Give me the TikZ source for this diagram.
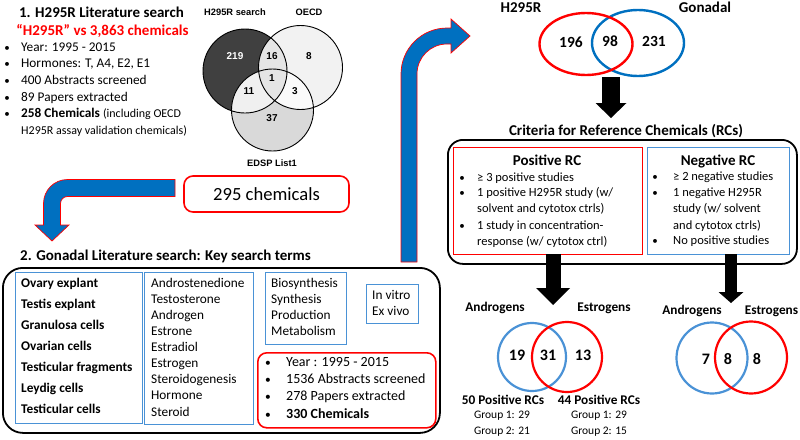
\documentclass[tikz,border=0pt]{standalone}
\usepackage{fontspec}
\setmainfont{Carlito}
\newfontfamily\vennfont{Liberation Sans}
\usetikzlibrary{arrows.meta}
\definecolor{arrowblue}{HTML}{0070C0}
\definecolor{lineblue}{HTML}{4A92D6}
\definecolor{linered}{HTML}{FF0000}
\newcommand{\fs}[2]{\fontsize{#1}{#2}\selectfont}

\begin{document}
\begin{tikzpicture}[x=1pt, y=-1pt,
  txt/.style={inner sep=0pt, anchor=west, text height=9.5pt, text depth=3pt, font=\fs{13.3}{16}},
  bul/.style={txt, anchor=center},
  hdr/.style={inner sep=0pt, text height=11pt, text depth=3.5pt, font=\bfseries\fs{15}{18}},
  vlab/.style={inner sep=0pt, font=\vennfont\bfseries\fs{9.3}{11}},
  vnum/.style={inner sep=0pt, font=\vennfont\bfseries\fs{10}{12}},
  num/.style={inner sep=0pt, font=\bfseries\fs{15.5}{18}},
  sublab/.style={inner sep=0pt, font=\bfseries\fs{13.3}{16}},
  grp/.style={inner sep=0pt, font=\fs{11.5}{14}},
  bluebox/.style={draw=lineblue, line width=1.3pt, inner sep=0pt},
  redbox/.style={draw=linered, line width=1.6pt, rounded corners=9pt, inner sep=0pt},
  blackbox/.style={draw=black, line width=1.8pt, rounded corners=17pt, inner sep=0pt},
  bigarrow/.style={fill=arrowblue, draw=red, line width=0.7pt},
  blackarrow/.style n args={3}{draw=black, line width=#1, -{Triangle[width=#2, length=#3, line width=0pt]}},
  ]
\useasboundingbox (0,0) rectangle (800,439);

% 1. H295R literature search
\node[hdr] (h295rtitle) at (101.5,14) {1. H295R Literature search};
\node[hdr, text=linered] (h295rsub) at (102.5,32) {“H295R” vs 3,863 chemicals};
\foreach \txt [count=\i] in {Year: 1995 - 2015, {Hormones: T, A4, E2, E1}, 400 Abstracts screened, 89 Papers extracted, {\textbf{258 Chemicals} {\fs{12}{14}(including OECD}}}{
  \node[bul, font=\fs{11}{14}] (hbul\i) at (7,{48+16.6*(\i-1)}) {•};
  \node[txt] (hitem\i) at (21,{48+16.6*(\i-1)}) {\txt};
}
\node[txt, font=\fs{12}{14}] (hitem6) at (21,131) {H295R assay validation chemicals)};

% three-set venn
\coordinate (hsearch) at (245,71);
\coordinate (oecd) at (300.5,67.5);
\coordinate (edsp) at (272.5,110);
\fill[black!15] (edsp) circle[radius=41];
\fill[black!5] (oecd) circle[radius=42];
\fill[black!75] (hsearch) circle[radius=42];
\begin{scope}
  \clip (hsearch) circle[radius=42];
  \fill[black!10] (oecd) circle[radius=42];
  \fill[black!6] (edsp) circle[radius=41];
\end{scope}
\begin{scope}
  \clip (oecd) circle[radius=42];
  \fill[black!2] (edsp) circle[radius=41];
\end{scope}
\begin{scope}
  \clip (hsearch) circle[radius=42];
  \clip (oecd) circle[radius=42];
  \fill[black!10] (edsp) circle[radius=41];
\end{scope}
\draw[line width=0.9pt] (hsearch) circle[radius=42] (oecd) circle[radius=42] (edsp) circle[radius=41];
\node[vlab] (hsearchlab) at (235,12) {H295R search};
\node[vlab] (oecdlab) at (309,12) {OECD};
\node[vlab] (edsplab) at (272,163) {EDSP List1};
\node[vnum, text=white] (n219) at (235,56) {219};
\node[vnum] (n16) at (272,56) {16};
\node[vnum] (n8) at (309,56) {8};
\node[vnum] (n1) at (272,78) {1};
\node[vnum] (n11) at (249,91) {11};
\node[vnum] (n3) at (295,91) {3};
\node[vnum] (n37) at (272,118) {37};

\node[redbox, minimum width=165pt, minimum height=36pt, font=\fs{18.6}{20}] (chembox) at (266.5,194) {295 chemicals};

% blue arrows
\draw[bigarrow] (175,179.5) -- (67.5,179.5) arc[start angle=270, end angle=180, radius=24]
  -- (43.5,225) -- (35,225) -- (52,241) -- (69,225) -- (60.5,225) -- (60.5,203.5)
  arc[start angle=180, end angle=270, radius=7] -- (175,196.5) -- cycle;
\draw[bigarrow] (401,262) -- (401,74) arc[start angle=180, end angle=270, radius=46]
  -- (451,28) -- (451,19) -- (470,36) -- (451,53) -- (451,44) -- (447,44)
  arc[start angle=270, end angle=180, radius=30] -- (417,262) -- cycle;

% 2. Gonadal literature search
\node[hdr, anchor=west] (gontitle) at (20,257) {2. Gonadal Literature search: Key search terms};
\node[blackbox, anchor=north west, minimum width=437pt, minimum height=165pt, rounded corners=20pt] (gonbox) at (2,267) {};
\node[bluebox, anchor=north west, minimum width=127pt, minimum height=151pt] (organbox) at (15,272) {};
\node[bluebox, anchor=north west, minimum width=109pt, minimum height=152pt] (hormbox) at (144,272) {};
\node[bluebox, anchor=north west, minimum width=81pt, minimum height=72pt] (synbox) at (265,272) {};
\node[bluebox, anchor=north west, minimum width=52pt, minimum height=39pt] (vivobox) at (366,284) {};
\node[redbox, anchor=north west, minimum width=178pt, minimum height=75pt] (gonres) at (257,352) {};
\foreach \txt [count=\i] in {Ovary explant, Testis explant, Granulosa cells, Ovarian cells, Testicular fragments, Leydig cells, Testicular cells}
  \node[txt, font=\bfseries\fs{13.3}{16}] (organ\i) at (21,{284+21.1*(\i-1)}) {\txt};
\foreach \txt [count=\i] in {Androstenedione, Testosterone, Androgen, Estrone, Estradiol, Estrogen, Steroidogenesis, Hormone, Steroid}
  \node[txt] (horm\i) at (151,{284+16.1*(\i-1)}) {\txt};
\foreach \txt [count=\i] in {Biosynthesis, Synthesis, Production, Metabolism}
  \node[txt] (syn\i) at (271,{284+16*(\i-1)}) {\txt};
\node[txt] (vivo1) at (372,296) {In vitro};
\node[txt] (vivo2) at (372,312) {Ex vivo};
\foreach \txt [count=\i] in {Year : 1995 - 2015, 1536 Abstracts screened, 278 Papers extracted, \textbf{330 Chemicals}}{
  \node[bul, font=\fs{11.5}{14}] (gbul\i) at (268,{363+17.3*(\i-1)}) {•};
  \node[txt, font=\fs{14}{17}] (gitem\i) at (286,{363+17.3*(\i-1)}) {\txt};
}

% overlap of both searches
\node[hdr] (h295rlab) at (521,9) {H295R};
\node[hdr] (gonlab) at (705,9) {Gonadal};
\draw[arrowblue, line width=2.4pt] (638,43) ellipse[x radius=46, y radius=33];
\draw[linered, line width=2.4pt] (586,44) ellipse[x radius=46.5, y radius=31];
\node[num] (n196) at (571,42) {196};
\node[num] (n98) at (610,41) {98};
\node[num] (n231) at (654,41) {231};
\coordinate (vennbottom) at (611,77);
\coordinate (crittop) at (611,118);
\draw[blackarrow={18pt}{31pt}{15pt}] (vennbottom) -- (crittop);

% criteria for reference chemicals
\node[hdr] (crittitle) at (626,132) {Criteria for Reference Chemicals (RCs)};
\node[blackbox, anchor=north west, minimum width=349pt, minimum height=124pt, rounded corners=15pt] (critbox) at (447,139) {};
\node[redbox, anchor=north west, minimum width=189pt, minimum height=107pt, rounded corners=0pt, line width=1.3pt] (posbox) at (453,147) {};
\node[bluebox, anchor=north west, minimum width=142pt, minimum height=107pt] (negbox) at (647,147) {};
\node[hdr] (postitle) at (547,162) {Positive RC};
\node[hdr] (negtitle) at (718,162) {Negative RC};
\foreach \yy in {178.3, 193.3, 226.7}
  \node[bul, font=\fs{11}{15}] at (462,\yy) {•};
\node[txt, font=\fs{12.5}{15}] (pos1) at (477,178.3) {≥ 3 positive studies};
\node[txt, font=\fs{12.5}{15}] (pos2) at (477,193.3) {1 positive H295R study (w/};
\node[txt, font=\fs{12.5}{15}] (pos3) at (477,209) {solvent and cytotox ctrls)};
\node[txt, font=\fs{12.5}{15}] (pos4) at (477,226.7) {1 study in concentration-};
\node[txt, font=\fs{12.5}{15}] (pos5) at (477,242.7) {response (w/ cytotox ctrl)};
\foreach \yy in {177.7, 193.3, 241.7}
  \node[bul, font=\fs{11}{15}] at (655,\yy) {•};
\node[txt, font=\fs{12.5}{15}] (neg1) at (673,177.7) {≥ 2 negative studies};
\node[txt, font=\fs{12.5}{15}] (neg2) at (673,193.3) {1 negative H295R};
\node[txt, font=\fs{12.5}{15}] (neg3) at (673,209) {study (w/ solvent};
\node[txt, font=\fs{12.5}{15}] (neg4) at (673,226) {and cytotox ctrls)};
\node[txt, font=\fs{12.5}{15}] (neg5) at (673,241.7) {No positive studies};

\coordinate (posstart) at (553,254);
\coordinate (posend) at (553,305);
\coordinate (negstart) at (731,254);
\coordinate (negend) at (731,303);
\draw[blackarrow={15pt}{34pt}{17pt}] (posstart) -- (posend);
\draw[blackarrow={12pt}{25pt}{11pt}] (negstart) -- (negend);

% positive RCs venn
\draw[lineblue, line width=2.2pt] (532,357) circle[radius=34];
\draw[linered, line width=2.2pt] (567,357) circle[radius=35];
\node[sublab] (posandro) at (495,308) {Androgens};
\node[sublab] (posestro) at (604,308) {Estrogens};
\node[num, font=\bfseries\fs{16}{18}] (n19) at (517,355) {19};
\node[num, font=\bfseries\fs{16}{18}] (n31) at (548,355) {31};
\node[num, font=\bfseries\fs{16}{18}] (n13) at (583,355) {13};
\node[sublab] (andrors) at (503,400) {50 Positive RCs};
\node[grp] (androg1) at (502,416) {Group 1: 29};
\node[grp] (androg2) at (502,432) {Group 2: 21};
\node[sublab] (estrors) at (599,400) {44 Positive RCs};
\node[grp] (estrog1) at (599,416) {Group 1: 29};
\node[grp] (estrog2) at (599,432) {Group 2: 15};

% negative RCs venn
\draw[lineblue, line width=2.2pt] (712,358) circle[radius=35.5];
\draw[linered, line width=2.2pt] (751,357.5) circle[radius=36];
\node[sublab] (negandro) at (692,311) {Androgens};
\node[sublab] (negestro) at (771.5,311) {Estrogens};
\node[num, font=\bfseries\fs{16}{18}] (n7) at (706,359) {7};
\node[num, font=\bfseries\fs{16}{18}] (n8b) at (728,359) {8};
\node[num, font=\bfseries\fs{16}{18}] (n8c) at (757,359) {8};
\end{tikzpicture}
\end{document}
